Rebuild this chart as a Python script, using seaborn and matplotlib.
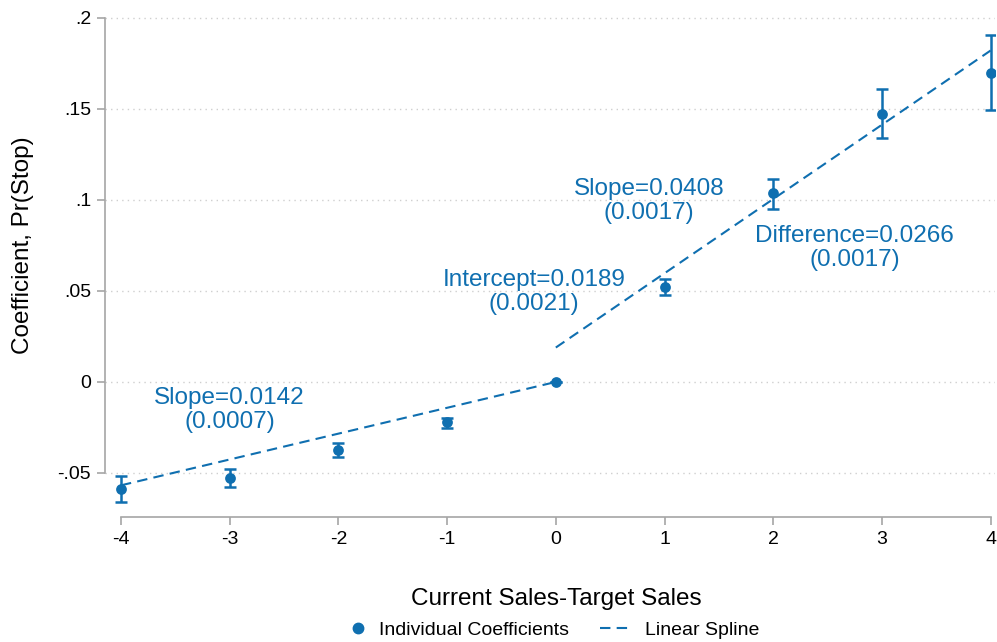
import numpy as np
import pandas as pd
import matplotlib
matplotlib.use("Agg")
import matplotlib.pyplot as plt
from matplotlib.lines import Line2D
import seaborn as sns

# Event-time bins and estimated coefficients with 95% CI bounds
bins = [-4, -3, -2, -1, 0, 1, 2, 3, 4]
coef = [-0.0588, -0.0526, -0.0374, -0.0222, 0.0, 0.0520, 0.1038, 0.1473, 0.1696]
ci_low = [-0.0659, -0.0577, -0.0414, -0.0253, 0.0, 0.0476, 0.0952, 0.1341, 0.1495]
ci_high = [-0.0516, -0.0478, -0.0333, -0.0198, 0.0, 0.0568, 0.1114, 0.1608, 0.1905]

# Linear spline estimates (standard errors in parentheses in the labels)
slope_below, se_slope_below = 0.0142, 0.0007
intercept_above, se_intercept = 0.0189, 0.0021
slope_above, se_slope_above = 0.0408, 0.0017
difference, se_difference = 0.0266, 0.0017

y_ticks = [-0.05, 0, 0.05, 0.1, 0.15, 0.2]
y_ticklabels = ["-.05", "0", ".05", ".1", ".15", ".2"]
x_ticks = bins

BLUE = "#0f6fb0"
GRAY = "#a6a6a6"

sns.set_theme(style="white")
plt.rcParams["font.family"] = ["Liberation Sans", "DejaVu Sans"]
plt.rcParams["text.color"] = "black"
plt.rcParams["axes.labelcolor"] = "black"

fig = plt.figure(figsize=(9.97, 6.42), dpi=100)
ax = fig.add_axes([105 / 997, 1 - 517 / 642, 890 / 997, (517 - 15) / 642])

pts = pd.DataFrame({"x": bins, "coef": coef, "lo": ci_low, "hi": ci_high})

# Spline segments built from the reported estimates
left = pd.DataFrame({"x": [-4, 0]})
left["y"] = slope_below * left["x"]
left["seg"] = "below"
right = pd.DataFrame({"x": [0, 4]})
right["y"] = intercept_above + slope_above * right["x"]
right["seg"] = "above"
spline = pd.concat([left, right], ignore_index=True)

DASH = (0, (5, 3))
for seg, d in spline.groupby("seg"):
    sns.lineplot(data=d, x="x", y="y", ax=ax, color=BLUE, lw=1.5,
                 linestyle=DASH, legend=False)

# Confidence intervals
ax.errorbar(pts["x"], pts["coef"],
            yerr=[pts["coef"] - pts["lo"], pts["hi"] - pts["coef"]],
            fmt="none", ecolor=BLUE, elinewidth=1.8, capsize=4, capthick=1.8, zorder=3)
sns.scatterplot(data=pts, x="x", y="coef", ax=ax, color=BLUE, s=60,
                edgecolor=BLUE, linewidth=0, zorder=4, legend=False)

# Annotations
ann_kw = dict(color=BLUE, fontsize=17.5, ha="center", va="center",
              multialignment="center", linespacing=1.1, zorder=5)
ax.text(-3.0, -0.0155, f"Slope={slope_below:.4f}\n({se_slope_below:.4f})", **ann_kw)
ax.text(-0.2, 0.0495, f"Intercept={intercept_above:.4f}\n({se_intercept:.4f})", **ann_kw)
ax.text(0.86, 0.0995, f"Slope={slope_above:.4f}\n({se_slope_above:.4f})", **ann_kw)
ax.text(2.75, 0.0735, f"Difference={difference:.4f}\n({se_difference:.4f})", **ann_kw)

# Axes styling
ax.set_xlim(-4.147, 4.04)
ax.set_ylim(-0.0742, 0.2016)
ax.set_xticks(x_ticks)
ax.set_xticklabels([str(v) for v in x_ticks])
ax.set_yticks(y_ticks)
ax.set_yticklabels(y_ticklabels)
ax.yaxis.grid(True, color="#cfcfcf", linestyle=(0, (1, 3)), linewidth=1.0)
ax.xaxis.grid(False)
ax.set_axisbelow(True)

ax.tick_params(axis="both", which="major", direction="out", length=6, width=1.2,
               color=GRAY, labelsize=14, labelcolor="black", pad=4, bottom=True, left=True)

ax.set_xlabel("Current Sales-Target Sales", fontsize=17.5)
ax.xaxis.set_label_coords((556 - 105) / 890, -(588 - 517) / 502)
ax.set_ylabel("Coefficient, Pr(Stop)", fontsize=17.5)
ax.yaxis.set_label_coords(-(105 - 34) / 890, (517 - 245) / 502)

# Two legend entries, laid out side by side below the plot
leg1 = fig.legend([Line2D([], [], marker="o", color=BLUE, linestyle="none", markersize=7.5)],
                  ["Individual Coefficients"], loc="center left",
                  bbox_to_anchor=(348 / 997, 1 - 630 / 642), frameon=False, fontsize=14,
                  handlelength=1.0, handletextpad=0.57, borderpad=0, borderaxespad=0)
leg2 = fig.legend([Line2D([], [], color=BLUE, lw=1.5, linestyle=DASH)],
                  ["Linear Spline"], loc="center left",
                  bbox_to_anchor=(600 / 997, 1 - 630 / 642), frameon=False, fontsize=14,
                  handlelength=1.55, handletextpad=0.77, borderpad=0, borderaxespad=0)

# Stata-like axis lines spanning only the labelled tick range
for side in ["top", "right"]:
    ax.spines[side].set_visible(False)
for side in ["left", "bottom"]:
    ax.spines[side].set_color(GRAY)
    ax.spines[side].set_linewidth(1.2)
ax.spines["bottom"].set_bounds(-4, 4)
ax.spines["left"].set_bounds(-0.05, 0.2)

fig.savefig("out.png", dpi=100)
